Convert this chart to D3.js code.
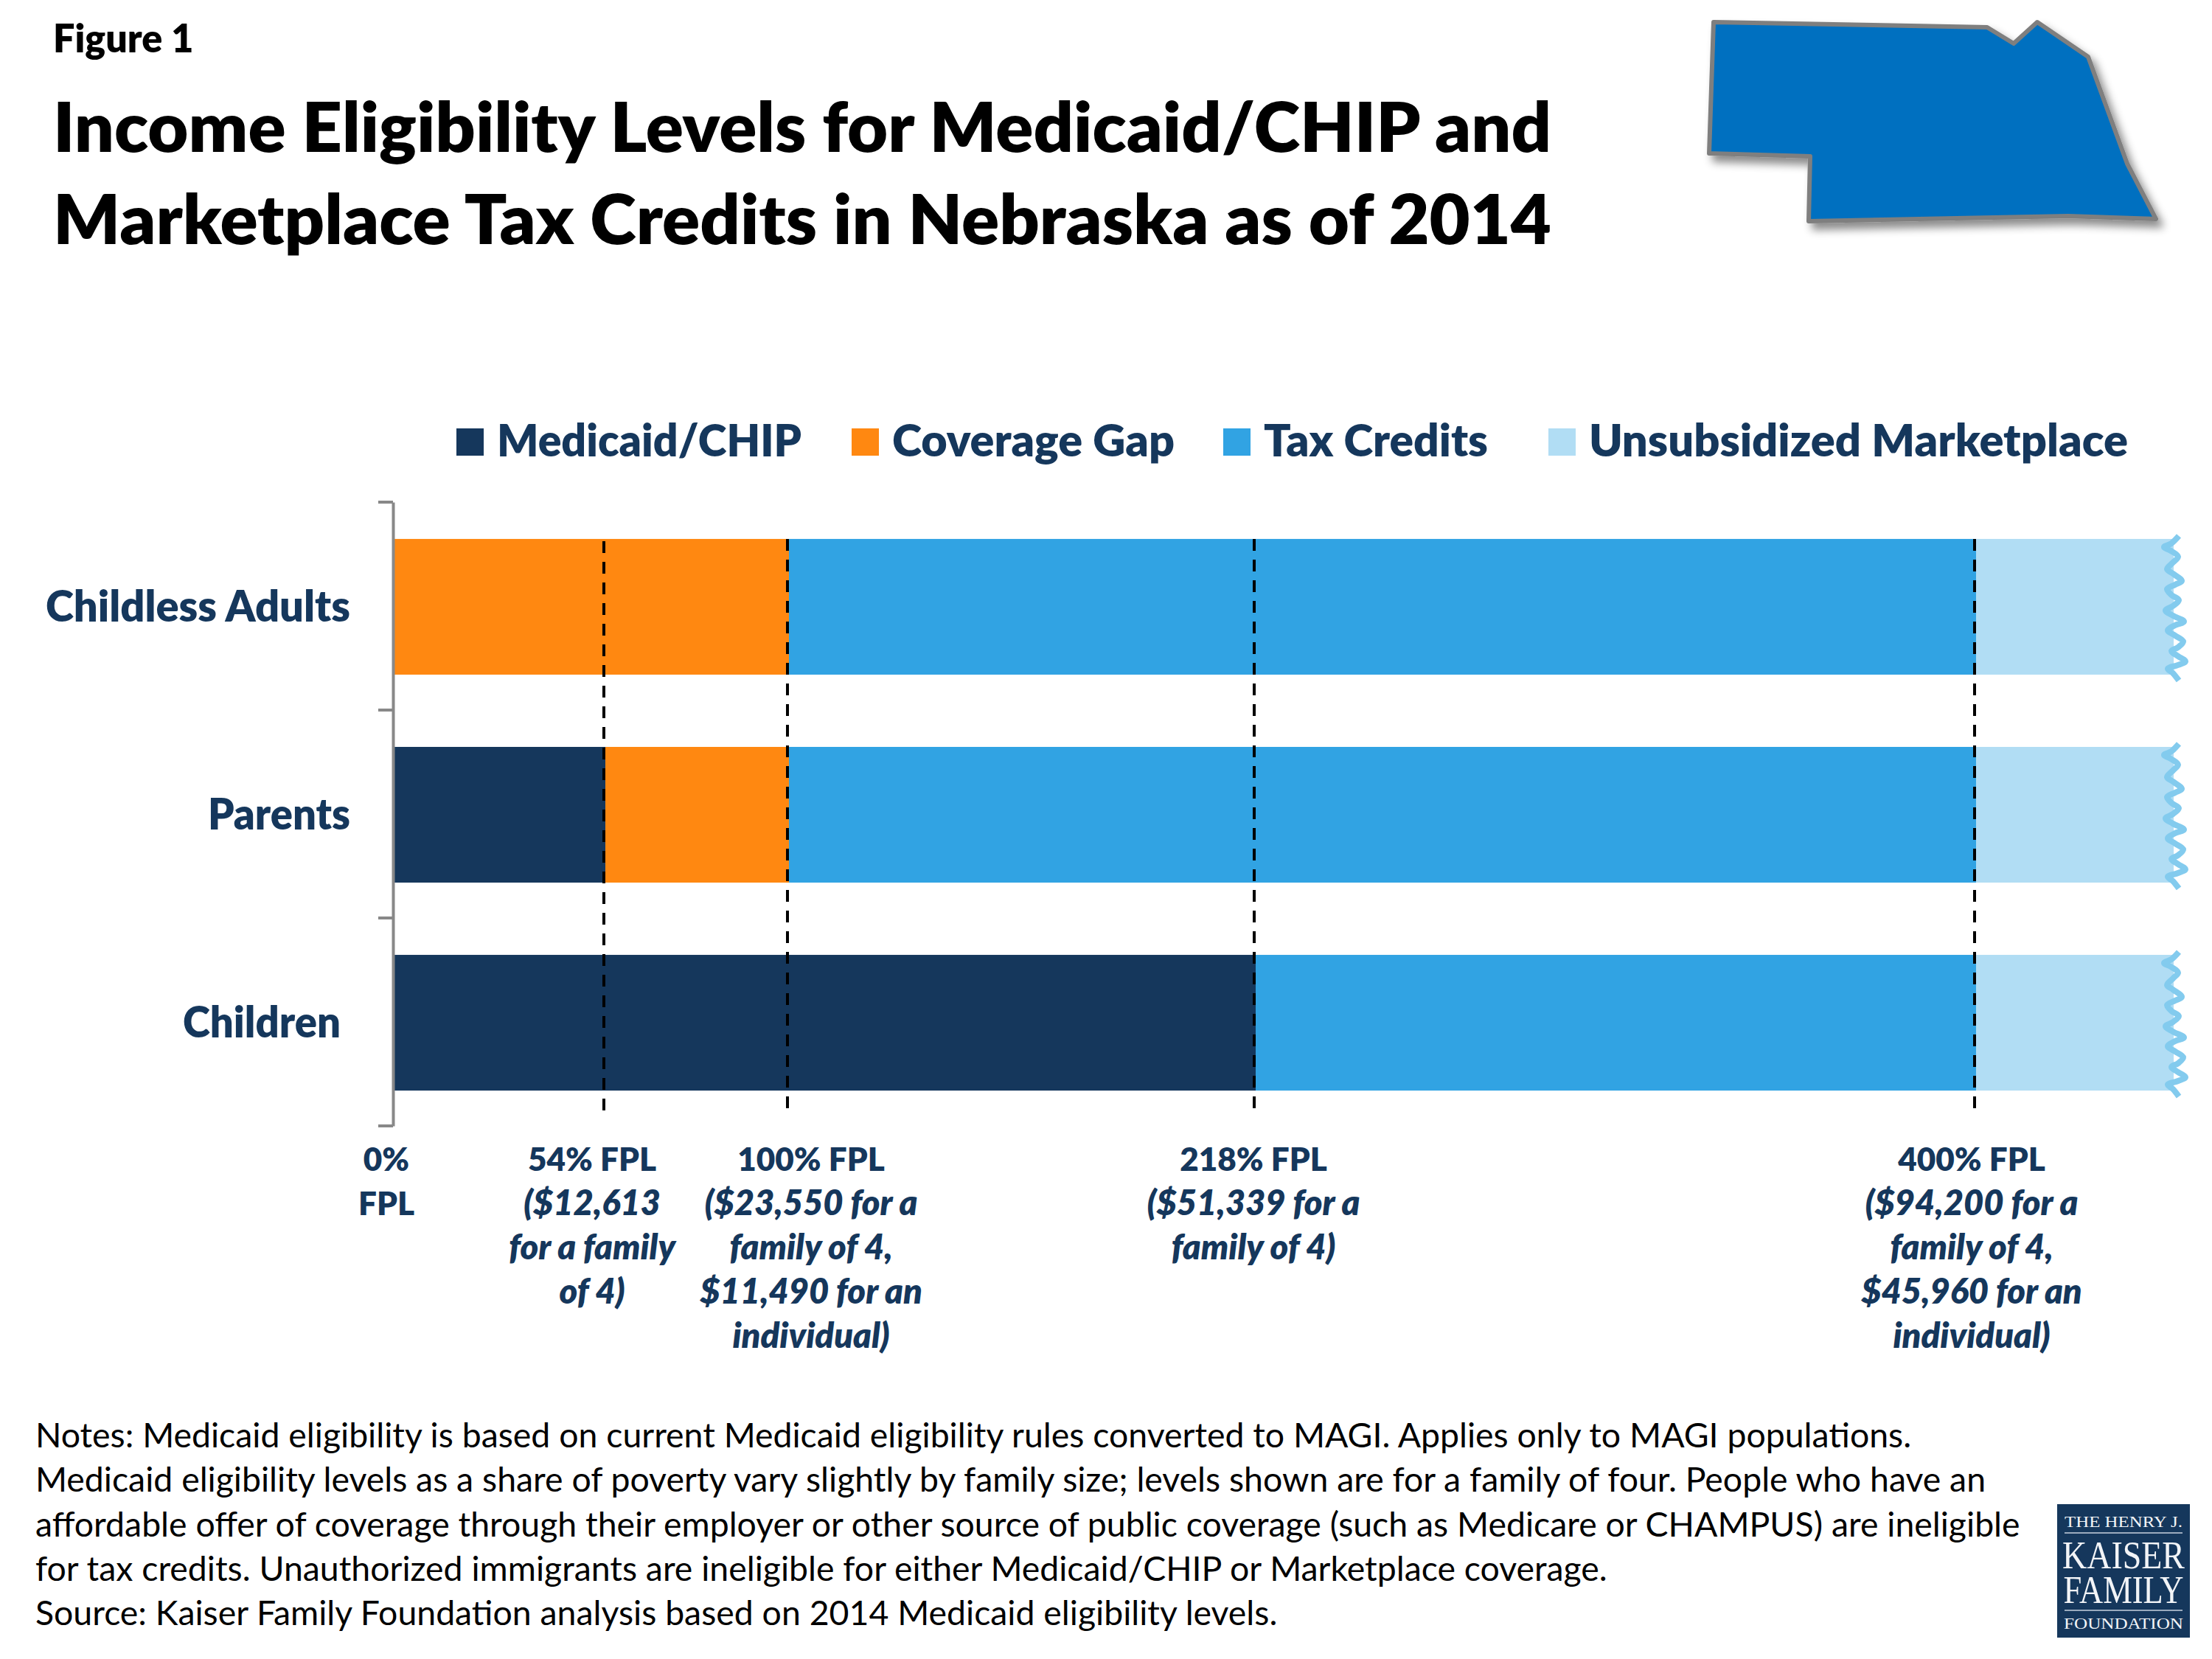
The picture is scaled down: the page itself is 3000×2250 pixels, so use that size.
<!DOCTYPE html>
<html>
<head>
<meta charset="utf-8">
<script src="https://cdn.jsdelivr.net/npm/d3@7"></script>
<style>
    html, body { margin: 0; padding: 0; background: #fff; }
    text { font-family: Lato, "Open Sans", sans-serif; }
</style>
</head>
<body>
<div id="chart"></div>
<script>
    // data
    var groups = ["Childless Adults", "Parents", "Children"];
    var seriesNames = ["Medicaid/CHIP", "Coverage Gap", "Tax Credits", "Unsubsidized Marketplace"];
    var seriesColors = ["#15375c", "#ff8811", "#31a3e3", "#b1ddf4"];
    var axisEnd = 449;
    var medicaid = [0, 54, 218];
    var gap = [100, 100, 218];
    var credits = [400, 400, 400];
    var unsubsidized = [axisEnd, axisEnd, axisEnd];
    var fplMarks = [54, 100, 218, 400];

    var fplLabels = [
        {at: 0, lines: ["0%", "FPL"], dx: -11},
        {at: 54, lines: ["54% FPL", "($12,613", "for a family", "of 4)"], dx: -18},
        {at: 100, lines: ["100% FPL", "($23,550 for a", "family of 4,", "$11,490 for an", "individual)"], dx: 30},
        {at: 218, lines: ["218% FPL", "($51,339 for a", "family of 4)"], dx: -3},
        {at: 400, lines: ["400% FPL", "($94,200 for a", "family of 4,", "$45,960 for an", "individual)"], dx: -6}
    ];
    var notes = [
        "Notes: Medicaid eligibility is based on current Medicaid eligibility rules converted to MAGI. Applies only to MAGI populations.",
        "Medicaid eligibility levels as a share of poverty vary slightly by family size; levels shown are for a family of four. People who have an",
        "affordable offer of coverage through their employer or other source of public coverage (such as Medicare or CHAMPUS) are ineligible",
        "for tax credits. Unauthorized immigrants are ineligible for either Medicaid/CHIP or Marketplace coverage.",
        "Source: Kaiser Family Foundation analysis based on 2014 Medicaid eligibility levels."
    ];

    var w = 3000, h = 2250;
    var navy = "#15375c";

    var svg = d3.select("#chart").append("svg")
        .attr("width", w).attr("height", h)
        .attr("viewBox", "0 0 " + w + " " + h)
        .style("display", "block");

    var defs = svg.append("defs");
    var shadow = defs.append("filter").attr("id", "shadow")
        .attr("x", "-10%").attr("y", "-10%").attr("width", "125%").attr("height", "125%");
    shadow.append("feDropShadow").attr("dx", 7).attr("dy", 9).attr("stdDeviation", 6)
        .attr("flood-color", "#000").attr("flood-opacity", 0.45);

    // heading
    svg.append("text").attr("x", 72).attr("y", 71).attr("font-size", 52).attr("font-weight", 800).text("Figure 1");
    svg.append("text").attr("x", 72).attr("y", 206).attr("font-size", 93).attr("font-weight", 800)
        .attr("textLength", 2032).attr("lengthAdjust", "spacingAndGlyphs")
        .text("Income Eligibility Levels for Medicaid/CHIP and");
    svg.append("text").attr("x", 72).attr("y", 331).attr("font-size", 93).attr("font-weight", 800)
        .attr("textLength", 2032).attr("lengthAdjust", "spacingAndGlyphs")
        .text("Marketplace Tax Credits in Nebraska as of 2014");

    // state outline, top right
    var nebraska = [[2324,30],[2695,37],[2731,59],[2763,30],[2832,77],[2885,222],[2924,297],[2805,293],[2453,300],[2455,212],[2318,208]];
    svg.append("path")
        .attr("d", d3.line()(nebraska) + "Z")
        .attr("fill", "#0070c0").attr("stroke", "#7f7f7f").attr("stroke-width", 6)
        .attr("stroke-linejoin", "round")
        .attr("filter", "url(#shadow)");

    // scales: the slide puts the 54% break slightly left of true position
    var x = d3.scaleLinear()
        .domain([0, 54, 100, 218, 400, axisEnd])
        .range([535, 821, 1070, 1703, 2680, 2948]);
    var y = d3.scaleBand().domain(groups).range([681, 1529]).paddingInner(0.3475).paddingOuter(0.177);

    // stacked bars
    var starts = [groups.map(() => 0), medicaid, gap, credits];
    var ends = [medicaid, gap, credits, unsubsidized];
    seriesNames.forEach(function (name, s) {
        svg.append("g").selectAll("rect")
            .data(groups)
            .enter().append("rect")
            .attr("x", (d, i) => x(starts[s][i]))
            .attr("y", d => y(d))
            .attr("width", (d, i) => x(ends[s][i]) - x(starts[s][i]))
            .attr("height", y.bandwidth())
            .attr("fill", seriesColors[s]);
    });

    // wavy torn edge at the end of each bar
    var wave = [[7,-4],[-3,6],[-13,11],[-4,16],[6,24],[-1,32],[-9,41],[-1,47],[11,57],[2,62],[-9,68],[-3,76],[7,83],[-1,91],[-11,97],[-1,104],[14,112],[2,117],[-8,124],[2,131],[13,139],[6,147],[-3,152],[6,159],[16,166],[6,171],[-8,176],[-1,182],[7,192]];
    var waveLine = d3.line().curve(d3.curveCatmullRom);
    svg.append("g").selectAll("path")
        .data(groups)
        .enter().append("path")
        .attr("transform", d => "translate(" + x(axisEnd) + "," + y(d) + ")")
        .attr("d", waveLine(wave))
        .attr("fill", "none").attr("stroke", "#83cbee").attr("stroke-width", 8);

    // left axis with ticks between the groups
    var axisY = d3.scaleBand().domain(groups).range([681, 1527]);
    var yAxis = d3.axisLeft(axisY).tickSize(0).tickFormat("");
    var axisG = svg.append("g").attr("transform", "translate(" + 533 + ",0)").call(yAxis);
    axisG.select(".domain").attr("stroke", "#888").attr("stroke-width", 4);
    svg.append("g").selectAll("line")
        .data(axisY.domain().map(d => axisY(d)).concat([axisY.range()[1]]))
        .enter().append("line")
        .attr("x1", 513).attr("x2", 533)
        .attr("y1", d => d).attr("y2", d => d)
        .attr("stroke", "#888").attr("stroke-width", 4);

    // group labels
    var labelRight = [475, 475, 462];
    var labelWidth = [413, 193, 214];
    svg.append("g").selectAll("text")
        .data(groups)
        .enter().append("text")
        .attr("x", (d, i) => labelRight[i] - labelWidth[i])
        .attr("y", d => y(d) + y.bandwidth() / 2 + 20)
        .attr("font-size", 58).attr("font-weight", 800)
        .attr("textLength", (d, i) => labelWidth[i]).attr("lengthAdjust", "spacingAndGlyphs")
        .attr("fill", navy)
        .text(d => d);

    // dashed FPL lines, each one starts a little differently on the slide
    svg.append("g").selectAll("line")
        .data(fplMarks)
        .enter().append("line")
        .attr("x1", d => x(d) - 2).attr("x2", d => x(d) - 2)
        .attr("y1", d => d === 54 ? 734 : 731).attr("y2", d => d === 54 ? 1506 : 1503)
        .attr("stroke", "#000").attr("stroke-width", 4)
        .attr("stroke-dasharray", "16,12");

    // FPL labels under the bars
    var lineHeight = 60;
    fplLabels.forEach(function (lab) {
        var t = svg.append("text")
            .attr("text-anchor", "middle")
            .attr("font-weight", 800)
            .attr("fill", navy);
        lab.lines.forEach(function (line, i) {
            var plain = line.indexOf("FPL") >= 0 || line === "0%";
            t.append("tspan")
                .attr("x", x(lab.at) + lab.dx)
                .attr("y", 1588 + i * lineHeight)
                .attr("font-size", plain ? 44 : 47)
                .attr("font-style", plain ? "normal" : "italic")
                .text(line);
        });
    });

    // legend
    var legendX = [619, 1155, 1659, 2100];
    var legendWidth = [413, 383, 304, 731];
    var legend = svg.append("g").selectAll("g")
        .data(seriesNames)
        .enter().append("g")
        .attr("transform", (d, i) => "translate(" + legendX[i] + ",581)");
    legend.append("rect").attr("width", 37).attr("height", 37).attr("fill", (d, i) => seriesColors[i]);
    legend.append("text").attr("x", 55).attr("y", 38)
        .attr("font-size", 61).attr("font-weight", 800).attr("fill", navy)
        .attr("textLength", (d, i) => legendWidth[i]).attr("lengthAdjust", "spacingAndGlyphs")
        .text(d => d);

    // notes
    svg.append("g").selectAll("text")
        .data(notes)
        .enter().append("text")
        .attr("x", 48)
        .attr("y", (d, i) => 1963 + i * 60.3)
        .attr("font-size", 46.4).attr("fill", "#000")
        .text(d => d);

    // logo
    var logo = svg.append("g").attr("transform", "translate(2790,2040)");
    logo.append("rect").attr("width", 180).attr("height", 181).attr("fill", navy);
    logo.append("line").attr("x1", 10).attr("x2", 170).attr("y1", 39).attr("y2", 39).attr("stroke", "#c9d3df").attr("stroke-width", 1.5);
    logo.append("line").attr("x1", 10).attr("x2", 170).attr("y1", 144).attr("y2", 144).attr("stroke", "#c9d3df").attr("stroke-width", 1.5);
    var logoLines = [["THE HENRY J.", 31, 22, 160], ["KAISER", 87, 53, 166], ["FAMILY", 134, 53, 163], ["FOUNDATION", 169, 21, 162]];
    logo.selectAll("text.logo")
        .data(logoLines)
        .enter().append("text")
        .attr("class", "logo")
        .attr("x", 90).attr("y", d => d[1])
        .attr("text-anchor", "middle")
        .attr("font-size", d => d[2])
        .attr("textLength", d => d[3]).attr("lengthAdjust", "spacingAndGlyphs")
        .attr("fill", "#f2f4f7")
        .style("font-family", "'Liberation Serif', serif")
        .text(d => d[0]);
</script>
</body>
</html>
